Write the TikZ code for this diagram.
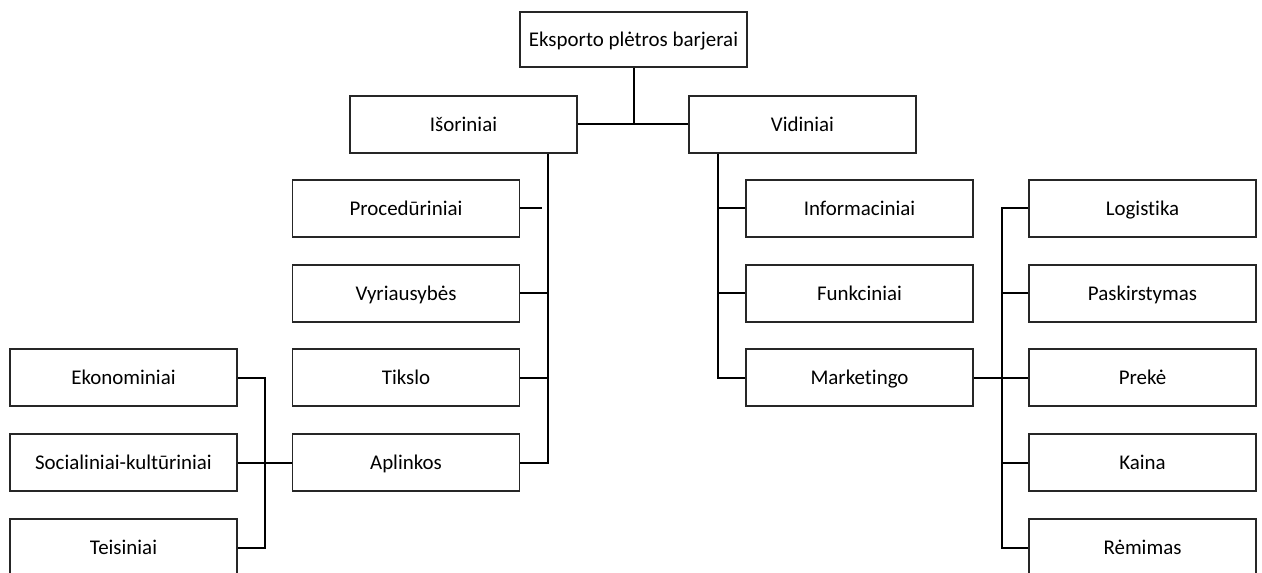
\documentclass[tikz,border=0pt]{standalone}
\usepackage{fontspec}
\setmainfont[Ligatures=NoCommon]{Carlito}
\begin{document}
\begin{tikzpicture}[x=0.75pt,y=-0.75pt,
  box/.style={draw=black!85,line width=0.9pt,minimum width=170.25pt,minimum height=42.75pt,inner sep=0pt,text height=13.3pt,text depth=3pt,font=\fontsize{15.7}{18}\selectfont},
  conn/.style={draw=black,line width=1.5pt}]
\useasboundingbox (0,0) rectangle (1262,573);
% boxes
\node[box,minimum height=41.25pt] (top) at (633.5,39.5) {Eksporto plėtros barjerai};
\node[box] (isor) at (463.5,124.5) {Išoriniai};
\node[box] (vid) at (802.5,124.5) {Vidiniai};
\node[box] (proc) at (406,208.5) {Procedūriniai};
\node[box] (vyr) at (406,293.5) {Vyriausybės};
\node[box] (tik) at (406,377.5) {Tikslo};
\node[box] (apl) at (406,462.5) {Aplinkos};
\node[box] (eko) at (123.5,377.5) {Ekonominiai};
\node[box] (soc) at (123.5,462.5) {Socialiniai-kultūriniai};
\node[box] (teis) at (123.5,547.5) {Teisiniai};
\node[box] (inf) at (859.5,208.5) {Informaciniai};
\node[box] (fun) at (859.5,293.5) {Funkciniai};
\node[box] (mkt) at (859.5,377.5) {Marketingo};
\node[box] (log) at (1142.5,208.5) {Logistika};
\node[box] (pask) at (1142.5,293.5) {Paskirstymas};
\node[box] (prek) at (1142.5,377.5) {Prekė};
\node[box] (kain) at (1142.5,462.5) {Kaina};
\node[box] (rem) at (1142.5,547.5) {Rėmimas};
% trunk coordinates
\coordinate (tL) at (548,0);
\coordinate (tR) at (718,0);
\coordinate (tFR) at (1002,0);
\coordinate (tFL) at (265,0);
\coordinate (procEnd) at (542,208.5);
% connectors
\draw[conn] (top.south) -- (top.south |- isor.east);
\draw[conn] (isor.east) -- (vid.west);
\draw[conn] (isor.south -| tL) |- (apl.east);
\draw[conn] (vyr.east) -- (vyr.east -| tL);
\draw[conn] (tik.east) -- (tik.east -| tL);
\draw[conn] (proc.east) -- (procEnd);
\draw[conn] (vid.south -| tR) |- (mkt.west);
\draw[conn] (inf.west) -- (inf.west -| tR);
\draw[conn] (fun.west) -- (fun.west -| tR);
\draw[conn] (mkt.east) -- (prek.west);
\draw[conn] (log.west) -| (rem.west -| tFR) -- (rem.west);
\draw[conn] (pask.west) -- (pask.west -| tFR);
\draw[conn] (kain.west) -- (kain.west -| tFR);
\draw[conn] (soc.east) -- (apl.west);
\draw[conn] (eko.east) -| (teis.east -| tFL) -- (teis.east);
\end{tikzpicture}
\end{document}
